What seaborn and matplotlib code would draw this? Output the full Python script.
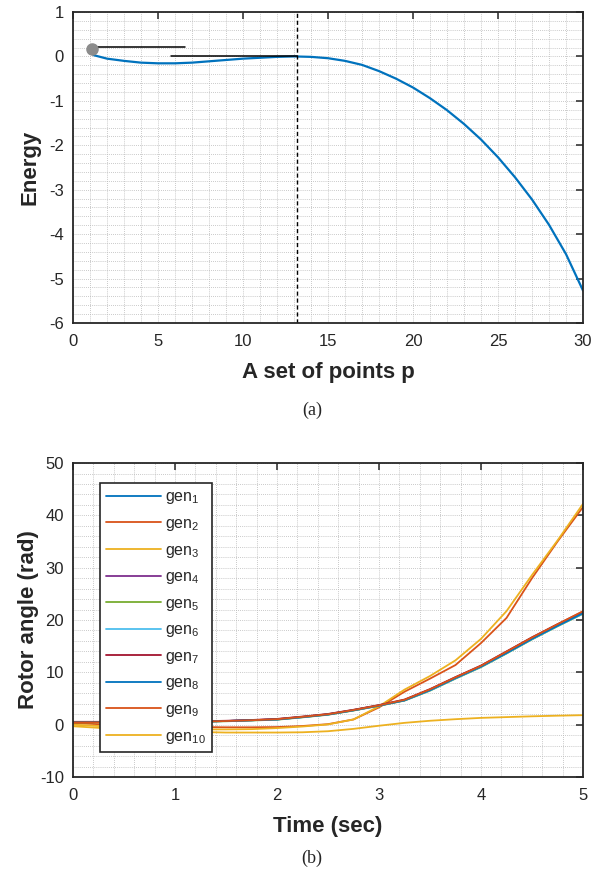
import matplotlib
matplotlib.use("Agg")
import matplotlib.pyplot as plt
from matplotlib.ticker import MultipleLocator
import seaborn as sns

sns.set_theme(style="white")
plt.rcParams['font.family'] = ['Liberation Sans', 'DejaVu Sans']
plt.rcParams['mathtext.fontset'] = 'custom'
plt.rcParams['mathtext.rm'] = 'Liberation Sans'
plt.rcParams['mathtext.it'] = 'Liberation Sans'
plt.rcParams['axes.unicode_minus'] = False

# ---- panel (a): energy along the point set ----
points_p = [1.2, 2, 3, 4, 5, 6, 7, 8, 9, 10, 11, 12, 13, 14, 15,
            16, 17, 18, 19, 20, 21, 22, 23, 24, 25, 26, 27, 28, 29, 30]
energy = [0.03, -0.05, -0.10, -0.14, -0.155, -0.155, -0.14, -0.11, -0.08, -0.05,
          -0.03, -0.01, 0.0, -0.01, -0.04, -0.10, -0.19, -0.33, -0.50, -0.70,
          -0.94, -1.21, -1.52, -1.87, -2.27, -2.72, -3.22, -3.79, -4.45, -5.27]
start_point = (1.13, 0.16)
seg1_x, seg1_y = [1.4, 6.6], [0.22, 0.22]
seg2_x, seg2_y = [5.75, 13.2], [0.02, 0.02]
dashed_x = 13.2

# ---- panel (b): rotor angles ----
time_s = [0, 0.25, 0.5, 0.75, 1, 1.25, 1.5, 1.75, 2, 2.25, 2.5,
          2.75, 3, 3.25, 3.5, 3.75, 4, 4.25, 4.5, 4.75, 5]
gen1 = [0.5, 0.5, 0.5, 0.5, 0.55, 0.6, 0.7, 0.85, 1.0, 1.45, 1.95, 2.75, 3.65, 4.65, 6.6, 8.9, 11.1, 13.7, 16.4, 18.9, 21.3]
gen2 = [0.3, 0.1, -0.1, -0.25, -0.4, -0.45, -0.5, -0.5, -0.45, -0.25, 0.1, 1.0, 3.3, 6.3, 8.8, 11.4, 15.6, 20.4, 28.0, 35.0, 41.6]
gen3 = [0.0, -0.25, -0.5, -0.7, -0.85, -0.9, -0.9, -0.85, -0.65, -0.35, 0.05, 1.0, 3.5, 6.7, 9.3, 12.3, 16.4, 21.7, 28.6, 35.2, 42.2]
gen4 = [0.5, 0.5, 0.5, 0.5, 0.55, 0.6, 0.7, 0.85, 1.05, 1.5, 2.0, 2.8, 3.7, 4.7, 6.7, 9.0, 11.2, 13.9, 16.6, 19.1, 21.5]
gen5 = [0.45, 0.45, 0.45, 0.45, 0.5, 0.55, 0.65, 0.8, 0.95, 1.4, 1.9, 2.7, 3.6, 4.6, 6.5, 8.8, 11.0, 13.6, 16.3, 18.8, 21.2]
gen6 = [0.5, 0.5, 0.5, 0.5, 0.55, 0.6, 0.7, 0.85, 1.0, 1.45, 1.95, 2.75, 3.65, 4.65, 6.55, 8.85, 11.05, 13.65, 16.35, 18.85, 21.25]
gen7 = [0.55, 0.55, 0.55, 0.55, 0.6, 0.65, 0.75, 0.9, 1.1, 1.55, 2.05, 2.85, 3.75, 4.8, 6.8, 9.1, 11.3, 14.0, 16.7, 19.2, 21.6]
gen8 = [0.5, 0.5, 0.5, 0.5, 0.55, 0.6, 0.7, 0.85, 1.0, 1.45, 1.95, 2.75, 3.65, 4.65, 6.6, 8.9, 11.1, 13.7, 16.4, 18.9, 21.3]
gen9 = [0.45, 0.45, 0.45, 0.5, 0.55, 0.6, 0.7, 0.85, 1.05, 1.5, 2.0, 2.8, 3.7, 4.75, 6.75, 9.05, 11.25, 13.95, 16.65, 19.2, 21.7]
gen10 = [-0.3, -0.6, -0.9, -1.1, -1.3, -1.4, -1.5, -1.5, -1.5, -1.45, -1.25, -0.8, -0.2, 0.35, 0.75, 1.05, 1.3, 1.45, 1.6, 1.72, 1.82]
gen_series = [gen1, gen2, gen3, gen4, gen5, gen6, gen7, gen8, gen9, gen10]
gen_labels = [f"gen$_{{{i}}}$" for i in range(1, 11)]
gen_colors = ['#0072BD', '#D95319', '#EDB120', '#7E2F8E', '#77AC30',
              '#4DBEEE', '#A2142F', '#0072BD', '#D95319', '#EDB120']


def style_axes(ax, xmin, xmax, ymin, ymax, xmaj, xmin_step, ymaj, ymin_step):
    ax.set_xlim(xmin, xmax)
    ax.set_ylim(ymin, ymax)
    ax.xaxis.set_major_locator(MultipleLocator(xmaj))
    ax.xaxis.set_minor_locator(MultipleLocator(xmin_step))
    ax.yaxis.set_major_locator(MultipleLocator(ymaj))
    ax.yaxis.set_minor_locator(MultipleLocator(ymin_step))
    ax.grid(True, which='both', linestyle=(0, (1, 1.5)), color='#b8b8b8', linewidth=0.6)
    ax.set_axisbelow(True)
    ax.tick_params(which='major', direction='in', length=5, width=1.1, top=True, right=True,
                   labelsize=12, colors='#262626')
    ax.tick_params(axis='x', which='major', pad=8)
    ax.tick_params(axis='y', which='major', pad=6.5)
    ax.tick_params(which='minor', length=0)
    for s in ax.spines.values():
        s.set_color('#262626')
        s.set_linewidth(1.3)


fig = plt.figure(figsize=(5.92, 8.76), dpi=100)
ax1 = fig.add_axes([0.1233, 0.6313, 0.8615, 0.3550])
ax2 = fig.add_axes([0.1233, 0.1130, 0.8615, 0.3584])

# panel (a)
sns.lineplot(x=points_p, y=energy, ax=ax1, color='#0072BD', linewidth=1.6)
ax1.plot(seg1_x, seg1_y, color='black', linewidth=1.1)
ax1.plot(seg2_x, seg2_y, color='black', linewidth=1.1)
ax1.axvline(dashed_x, color='black', linestyle=(0, (3, 2)), linewidth=1.0)
ax1.plot([start_point[0]], [start_point[1]], 'o', color='#8c8c8c', markersize=8)
style_axes(ax1, 0, 30, -6, 1, 5, 1, 1, 0.2)
ax1.set_xlabel('A set of points p', fontsize=16, fontweight='bold', labelpad=9)
ax1.set_ylabel('Energy', fontsize=16, fontweight='bold', labelpad=6)

# panel (b)
for vals, lab, col in zip(gen_series, gen_labels, gen_colors):
    sns.lineplot(x=time_s, y=vals, ax=ax2, color=col, linewidth=1.3, label=lab)
style_axes(ax2, 0, 5, -10, 50, 1, 0.2, 10, 2)
ax2.set_xlabel('Time (sec)', fontsize=16, fontweight='bold', labelpad=9)
ax2.set_ylabel('Rotor angle (rad)', fontsize=16, fontweight='bold', labelpad=1)
leg = ax2.legend(loc='upper left', bbox_to_anchor=(100 / 592, 1 - 483 / 876),
                 bbox_transform=fig.transFigure, borderaxespad=0, fontsize=11.5,
                 handlelength=3.4, labelspacing=0.6, fancybox=False, framealpha=1,
                 edgecolor='#262626', borderpad=0.4, handletextpad=0.25)
leg.get_frame().set_linewidth(1.2)

fig.text(312 / 592, 1 - 410 / 876, '(a)', ha='center', va='center', fontsize=13,
         family='Liberation Serif')
fig.text(312 / 592, 1 - 858 / 876, '(b)', ha='center', va='center', fontsize=13,
         family='Liberation Serif')

fig.savefig('out.png', dpi=100)
